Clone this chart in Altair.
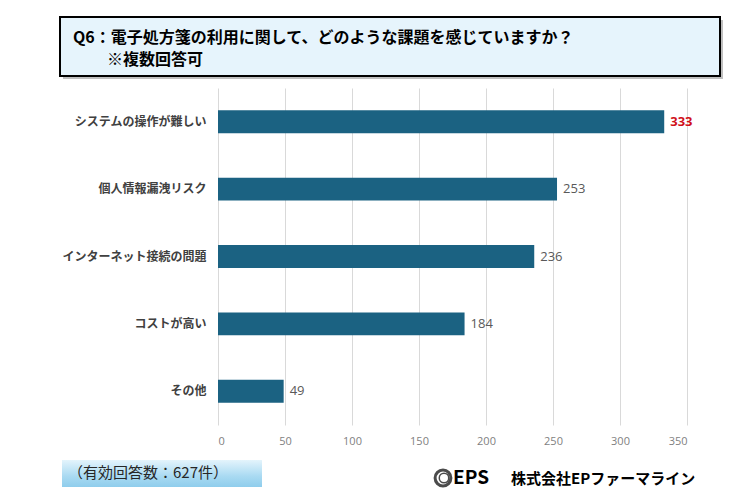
import altair as alt
import pandas as pd

categories = ["システムの操作が難しい", "個人情報漏洩リスク", "インターネット接続の問題", "コストが高い", "その他"]
values = [333, 253, 236, 184, 49]
highlight = [True, False, False, False, False]
x_ticks = [0, 50, 100, 150, 200, 250, 300, 350]

title_line1 = "Q6：電子処方箋の利用に関して、どのような課題を感じていますか？"
title_line2 = "※複数回答可"
footer_note = "（有効回答数：627件）"
logo_short = "EPS"
logo_company = "株式会社EPファーマライン"

df = pd.DataFrame({"cat": categories, "val": values, "hi": highlight})

JP = "Noto Sans CJK JP"
NUM = "Open Sans"
W, H = 469, 337

y_enc = alt.Y("cat:N", sort=categories, title=None,
              scale=alt.Scale(paddingInner=0.66, paddingOuter=0.33),
              axis=alt.Axis(labelFont=JP, labelFontWeight="bold", labelFontSize=12,
                            labelColor="#404040", ticks=False, domain=False,
                            labelPadding=12, grid=False))
x_enc = alt.X("val:Q", title=None,
              scale=alt.Scale(domain=[0, 350], nice=False),
              axis=alt.Axis(values=x_ticks, labelFont=NUM, labelFontSize=11,
                            labelColor="#7f7f7f", ticks=False, domain=False,
                            grid=True, gridColor="#d9d9d9", labelPadding=10))

bars = alt.Chart(df).mark_bar(color="#1b6282").encode(x=x_enc, y=y_enc)

labels_normal = alt.Chart(df).transform_filter("!datum.hi").mark_text(
    align="left", baseline="middle", dx=6, font=NUM, fontSize=13, color="#595959"
).encode(x="val:Q", y=alt.Y("cat:N", sort=categories), text="val:Q")

labels_hi = alt.Chart(df).transform_filter("datum.hi").mark_text(
    align="left", baseline="middle", dx=6, font=NUM, fontSize=13, fontWeight="bold", color="#d0101a"
).encode(x="val:Q", y=alt.Y("cat:N", sort=categories), text="val:Q")

one = pd.DataFrame({"k": [0]})

# title box (shadow + box)
title_shadow = alt.Chart(one).mark_rect(fill="#bfbfbf").encode(
    x=alt.value(-155), x2=alt.value(505), y=alt.value(-68), y2=alt.value(-9))
title_box = alt.Chart(one).mark_rect(fill="#e6f4fc", stroke="#000000", strokeWidth=2).encode(
    x=alt.value(-158), x2=alt.value(502), y=alt.value(-71), y2=alt.value(-12))
title_t1 = alt.Chart(one).mark_text(
    align="left", baseline="middle", font=JP, fontWeight="bold", fontSize=16, color="#000000"
).encode(x=alt.value(-145), y=alt.value(-50), text=alt.value(title_line1))
title_t2 = alt.Chart(one).mark_text(
    align="left", baseline="middle", font=JP, fontWeight="bold", fontSize=16, color="#000000"
).encode(x=alt.value(-111), y=alt.value(-28), text=alt.value(title_line2))

# footer
grad = alt.Gradient(gradient="linear", x1=0, y1=0, x2=0, y2=1,
                    stops=[alt.GradientStop(color="#e4f4fc", offset=0),
                           alt.GradientStop(color="#a9daf2", offset=0.6),
                           alt.GradientStop(color="#8fcdec", offset=1)])
footer_box = alt.Chart(one).mark_rect(fill=grad).encode(
    x=alt.value(-156), x2=alt.value(44), y=alt.value(372), y2=alt.value(399))
footer_t = alt.Chart(one).mark_text(
    align="left", baseline="middle", font=JP, fontSize=15, color="#262626"
).encode(x=alt.value(-150), y=alt.value(385), text=alt.value(footer_note))

logo_ring = alt.Chart(one).mark_point(shape="circle", size=250, filled=False,
                                      stroke="#000000", strokeWidth=3).encode(
    x=alt.value(225), y=alt.value(390))
logo_ring2 = alt.Chart(one).mark_point(shape="circle", size=90, filled=False,
                                       stroke="#000000", strokeWidth=1.5).encode(
    x=alt.value(226), y=alt.value(390))
logo_eps = alt.Chart(one).mark_text(
    align="left", baseline="middle", font=JP, fontWeight="bold", fontSize=19, color="#000000"
).encode(x=alt.value(235), y=alt.value(390), text=alt.value(logo_short))
logo_co = alt.Chart(one).mark_text(
    align="left", baseline="middle", font=JP, fontWeight="bold", fontSize=15, color="#000000"
).encode(x=alt.value(293), y=alt.value(391), text=alt.value(logo_company))

chart = alt.layer(
    bars, labels_normal, labels_hi,
    title_shadow, title_box, title_t1, title_t2,
    footer_box, footer_t, logo_ring, logo_ring2, logo_eps, logo_co
).properties(
    width=W, height=H,
    autosize=alt.AutoSizeParams(type="none"),
    padding={"left": 210, "top": 80, "right": 50, "bottom": 64},
    background="#ffffff"
).configure_view(stroke=None)

chart.save("out.html", embed_options={"renderer": "svg", "actions": False})
